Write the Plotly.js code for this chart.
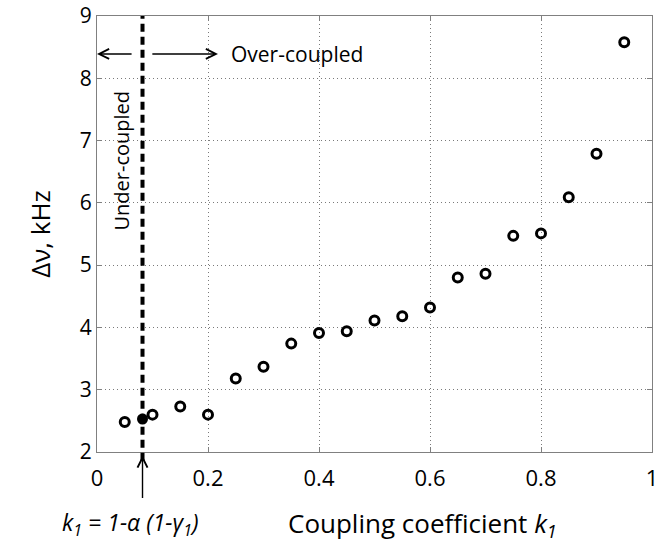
<!DOCTYPE html>
<html>
<head>
<meta charset="utf-8">
<script src="https://cdn.plot.ly/plotly-3.0.1.min.js"></script>
<style>html,body{margin:0;padding:0;background:#fff;}#chart{width:670px;height:543px;}</style>
</head>
<body>
<div id="chart"></div>
<script>
// Data
const couplingK = [0.05, 0.10, 0.15, 0.20, 0.25, 0.30, 0.35, 0.40, 0.45, 0.50, 0.55, 0.60, 0.65, 0.70, 0.75, 0.80, 0.85, 0.90, 0.95];
const linewidthKHz = [2.48, 2.60, 2.73, 2.60, 3.18, 3.37, 3.74, 3.91, 3.94, 4.11, 4.18, 4.32, 4.80, 4.86, 5.47, 5.51, 6.09, 6.79, 8.58];
const criticalK = [0.082];
const criticalDv = [2.53];
const xTickVals = [0, 0.2, 0.4, 0.6, 0.8, 1];
const xTickText = ["0", "0.2", "0.4", "0.6", "0.8", "1"];
const yTickVals = [2, 3, 4, 5, 6, 7, 8, 9];
const arrowY = 8.39;

const FONT = "Open Sans, Noto Sans, sans-serif";

const traces = [
  {
    x: couplingK, y: linewidthKHz, type: "scatter", mode: "markers",
    marker: {symbol: "circle-open", size: 9, color: "#000", line: {width: 3, color: "#000"}},
    hoverinfo: "x+y", showlegend: false
  },
  {
    x: criticalK, y: criticalDv, type: "scatter", mode: "markers",
    marker: {symbol: "circle", size: 11, color: "#000"},
    showlegend: false
  }
];

const layout = {
  width: 670, height: 543,
  margin: {l: 97, r: 18, t: 16, b: 91},
  paper_bgcolor: "#fff", plot_bgcolor: "#fff",
  font: {family: FONT, color: "#000", size: 22},
  showlegend: false,
  xaxis: {
    range: [0, 1], tickvals: xTickVals, ticktext: xTickText,
    showgrid: true, gridcolor: "#7a7a7a", griddash: "1px,3px", gridwidth: 1,
    showline: true, linecolor: "#808080", linewidth: 1, mirror: "ticks",
    ticks: "inside", ticklen: 5, tickcolor: "#808080",
    tickfont: {size: 22, family: FONT}, zeroline: false, ticklabelstandoff: 7
  },
  yaxis: {
    range: [2, 9], tickvals: yTickVals,
    showgrid: true, gridcolor: "#7a7a7a", griddash: "1px,3px", gridwidth: 1,
    showline: true, linecolor: "#808080", linewidth: 1, mirror: "ticks",
    ticks: "inside", ticklen: 5, tickcolor: "#808080", ticklabeloverflow: "allow",
    tickfont: {size: 21, family: FONT}, zeroline: false,
    title: {text: "Δν, kHz", font: {size: 26, family: FONT}, standoff: 21}
  },
  shapes: [
    {type: "line", xref: "x", yref: "paper", x0: criticalK[0], x1: criticalK[0], y0: -0.02, y1: 1,
     line: {color: "#000", width: 4, dash: "8px,5px"}}
  ],
  annotations: [
    // left arrow (under-coupled)
    {x: 0, y: arrowY, xref: "x", yref: "y", ax: 0.065, ay: arrowY, axref: "x", ayref: "y",
     text: "", showarrow: true, arrowhead: 5, arrowsize: 1.4, arrowwidth: 1.4, arrowcolor: "#000"},
    // right arrow (over-coupled)
    {x: 0.218, y: arrowY, xref: "x", yref: "y", ax: 0.097, ay: arrowY, axref: "x", ayref: "y",
     text: "", showarrow: true, arrowhead: 5, arrowsize: 1.4, arrowwidth: 1.4, arrowcolor: "#000"},
    {x: 0.237, y: arrowY, xref: "x", yref: "y", text: "Over-coupled", showarrow: false,
     xanchor: "left", yanchor: "middle", font: {size: 21, family: FONT}},
    {x: 0.045, y: 6.68, xref: "x", yref: "y", text: "Under-coupled", showarrow: false,
     textangle: -90, xanchor: "center", yanchor: "middle", font: {size: 20, family: FONT}},
    // arrow pointing up to the critical coupling
    {x: criticalK[0], y: -0.008, xref: "x", yref: "paper", ax: 0, ay: 44,
     text: "", showarrow: true, arrowhead: 5, arrowsize: 1.4, arrowwidth: 1.4, arrowcolor: "#000"},
    {x: 0.06, y: -0.165, xref: "x", yref: "paper",
     text: "<i>k<sub>1</sub> = 1-α (1-γ<sub>1</sub>)</i>", showarrow: false,
     xanchor: "center", yanchor: "middle", font: {size: 23, family: FONT}},
    {x: 0.586, y: -0.165, xref: "x", yref: "paper",
     text: "Coupling coefficient <i>k<sub>1</sub></i>", showarrow: false,
     xanchor: "center", yanchor: "middle", font: {size: 26, family: FONT}}
  ]
};

Plotly.newPlot("chart", traces, layout, {displayModeBar: false, staticPlot: true});
</script>
</body>
</html>
